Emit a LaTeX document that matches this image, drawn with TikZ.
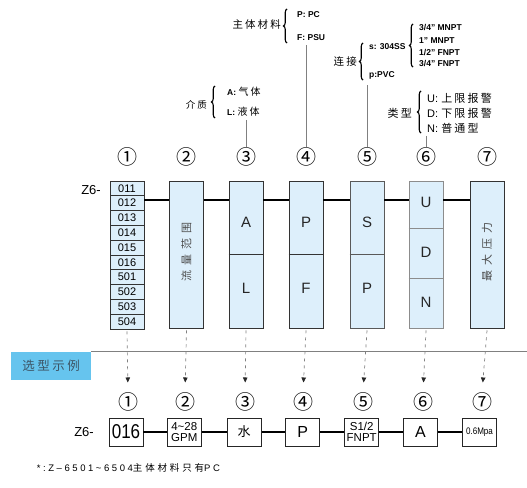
\documentclass[tikz,border=0pt]{standalone}
\usepackage{fontspec}
\usepackage{graphicx}
\setmainfont{Liberation Sans}
\newfontfamily\cjk{Noto Sans CJK SC}
\newfontfamily\cjksp[LetterSpace=20]{Noto Sans CJK SC}
\newfontfamily\cjkwide[LetterSpace=45]{Noto Sans CJK SC}
\newfontfamily\latsp[LetterSpace=27]{Liberation Sans}
\newfontfamily\cjkfoot[LetterSpace=30]{Noto Sans CJK SC}
\newcommand\nar[2]{\scalebox{#1}[1]{#2}}
\usetikzlibrary{arrows.meta,decorations.pathreplacing}
\definecolor{boxfill}{HTML}{DDEFFB}
\definecolor{tagblue}{HTML}{66C4EE}
\definecolor{tagtext}{HTML}{3D5566}
\definecolor{linegrey}{HTML}{808080}
\begin{document}
\begin{tikzpicture}[x=1pt,y=-1pt,
  topbox/.style={draw=black!80, fill=boxfill, minimum width=34pt, minimum height=147pt, inner sep=0pt, line width=0.8pt},
  rowbox/.style={draw=black!80, fill=boxfill, minimum width=34pt, minimum height=14.8pt, inner sep=0pt, line width=0.8pt, font=\fontsize{11}{11}\selectfont},
  boxtxt/.style={inner sep=0pt, font=\fontsize{15}{15}\selectfont, text=black!85},
  vtxt/.style={inner sep=0pt, rotate=90, font=\cjkwide\fontsize{11}{11}\selectfont, text=black!70},
  circnum/.style={inner sep=0pt, font=\cjk\fontsize{20}{20}\selectfont},
  conn/.style={line width=1.1pt, draw=black},
  anno/.style={inner sep=0pt, anchor=west, font=\bfseries\fontsize{8.5}{9}\selectfont},
  annozh/.style={inner sep=0pt, anchor=east, font=\cjksp\fontsize{10.5}{10.5}\selectfont},
  typetxt/.style={inner sep=0pt, anchor=west, font=\fontsize{11}{11}\selectfont},
  brc/.style={decorate, decoration={brace, amplitude=3.5pt}, line width=1.1pt},
  guide/.style={draw=linegrey, line width=0.7pt},
  dashln/.style={draw=linegrey, line width=0.7pt, dash pattern=on 3pt off 4pt, shorten >=10pt, -{Triangle[width=4.5pt,length=5pt,color=black!85]}},
  botbox/.style={draw=black!85, line width=0.8pt, minimum width=34pt, minimum height=28pt, inner sep=0pt},
  zlabel/.style={inner sep=0pt, font=\fontsize{13}{13}\selectfont}
]
\useasboundingbox[fill=white] (0,0) rectangle (527,487);

% ---------- annotations ----------
\node[annozh] (zt) at (281,25) {主体材料};
\draw[brc] (287,43) -- (287,9);
\node[anno] (ppc) at (297,15) {P: PC};
\node[anno] (fpsu) at (297,38) {F: PSU};

\node[annozh] (lj) at (357,62) {连接};
\draw[brc] (363,80) -- (363,43);
\node[anno] (s304) at (369,47) {s: 304SS};
\node[anno] (ppvc) at (369,75) {p:PVC};
\draw[brc] (413,67) -- (413,24);
\node[anno] (m1) at (419,27.3) {3/4" MNPT};
\node[anno] (m2) at (419,40.7) {1" MNPT};
\node[anno] (m3) at (419,52.3) {1/2" FNPT};
\node[anno] (m4) at (419,64) {3/4" FNPT};

\node[annozh, font=\cjksp\fontsize{9.5}{9.5}\selectfont] (jz) at (207,105) {介质};
\draw[brc] (215,118) -- (215,86);
\node[anno] (gas) at (227,92) {A: {\cjksp\mdseries\fontsize{10}{10}\selectfont 气体}};
\node[anno] (liq) at (227,112) {L: {\cjksp\mdseries\fontsize{10}{10}\selectfont 液体}};

\node[annozh, font=\cjksp\fontsize{11}{11}\selectfont] (lx) at (412,113) {类型};
\draw[brc] (421,133) -- (421,91);
\node[typetxt] (tu) at (427,98) {U: {\cjksp 上限报警}};
\node[typetxt] (td) at (427,113.5) {D: {\cjksp 下限报警}};
\node[typetxt] (tn) at (427,128.5) {N: {\cjksp 普通型}};

% ---------- top circled numbers ----------
\node[circnum] (n1) at (127,157) {①};
\node[circnum] (n2) at (186.5,157) {②};
\node[circnum] (n3) at (246,157) {③};
\node[circnum] (n4) at (306,157) {④};
\node[circnum] (n5) at (367,157) {⑤};
\node[circnum] (n6) at (426,157) {⑥};
\node[circnum] (n7) at (487,157) {⑦};

\draw[guide] ([yshift=-3pt]liq.south -| n3.north) -- (n3.north);
\draw[guide] ([yshift=-4pt]fpsu.south -| n4.north) -- (n4.north);
\draw[guide] ([yshift=-6pt]ppvc.south -| n5.north) -- (n5.north);
\draw[guide] ([yshift=-2pt]tn.south west -| n6.north) -- (n6.north);

% ---------- top boxes ----------
\node[zlabel] (ztop) at (91,190) {Z6-};
\foreach \lab [count=\k] in {011,012,013,014,015,016,501,502,503,504}
  \node[rowbox] (r\k) at (127,{181+14.8*\k-7.4}) {\lab};

\node[topbox] (b2) at (186.5,254.5) {};
\node[vtxt] (t2) at (186.5,252) {流量范围};

\node[topbox] (b3) at (246,254.5) {};
\draw[draw=black!80, line width=0.8pt] (b3.west) -- (b3.east);
\node[boxtxt] (t3a) at (246,222) {A};
\node[boxtxt] (t3b) at (246,288) {L};

\node[topbox] (b4) at (306,254.5) {};
\draw[draw=black!80, line width=0.8pt] (b4.west) -- (b4.east);
\node[boxtxt] (t4a) at (306,222) {P};
\node[boxtxt] (t4b) at (306,288) {F};

\node[topbox, draw=black!65] (b5) at (367,254.5) {};
\draw[draw=black!65, line width=0.8pt] (b5.west) -- (b5.east);
\node[boxtxt] (t5a) at (367,222) {S};
\node[boxtxt] (t5b) at (367,288) {P};

\node[topbox, draw=black!45] (b6) at (426,254.5) {};
\draw[draw=black!45, line width=0.8pt] (b6.north west) ++(0,48) -- ++(34,0);
\draw[draw=black!45, line width=0.8pt] (b6.north west) ++(0,97.3) -- ++(34,0);
\node[boxtxt] (t6a) at (426,202) {U};
\node[boxtxt] (t6b) at (426,252) {D};
\node[boxtxt] (t6c) at (426,302) {N};

\node[topbox] (b7) at (487,254.5) {};
\node[vtxt] (t7) at (487,252) {最大压力};

\coordinate (lv) at (0,200);
\draw[conn] (r2.east |- lv) -- (b2.west |- lv);
\draw[conn] (b2.east |- lv) -- (b3.west |- lv);
\draw[conn] (b3.east |- lv) -- (b4.west |- lv);
\draw[conn] (b4.east |- lv) -- (b5.west |- lv);
\draw[conn] (b5.east |- lv) -- (b6.west |- lv);
\draw[conn] (b6.east |- lv) -- (b7.west |- lv);

% ---------- example section ----------
\node[fill=tagblue, minimum width=80pt, minimum height=28pt, inner sep=0pt, anchor=north west,
      text=tagtext, font=\cjksp\fontsize{12.5}{12.5}\selectfont] (tag) at (11,351.5) {选型示例};
\coordinate (rend) at (527,351.5);
\draw[draw=linegrey, line width=1.3pt] (tag.north east) -- (rend);

\node[circnum] (q1) at (128,402) {①};
\node[circnum] (q2) at (185,402) {②};
\node[circnum] (q3) at (245,402) {③};
\node[circnum] (q4) at (303,402) {④};
\node[circnum] (q5) at (363,402) {⑤};
\node[circnum] (q6) at (423,402) {⑥};
\node[circnum] (q7) at (482,402) {⑦};

\draw[dashln] ([yshift=-2pt]r10.south) -- (q1.north);
\draw[dashln] ([yshift=-2pt]b2.south) -- (q2.north);
\draw[dashln] ([yshift=-2pt]b3.south) -- (q3.north);
\draw[dashln] ([yshift=-2pt]b4.south) -- (q4.north);
\draw[dashln] ([yshift=-2pt]b5.south) -- (q5.north);
\draw[dashln] ([yshift=-2pt]b6.south) -- (q6.north);
\draw[dashln] ([yshift=-2pt]b7.south) -- (q7.north);

\node[zlabel] (zbot) at (84,432) {Z6-};
\node[botbox] (c1) at (126,432) {\nar{0.85}{\fontsize{20}{20}\selectfont 016}};
\node[botbox, align=center, font=\fontsize{11.5}{11}\selectfont] (c2) at (184.3,432) {4\textasciitilde28\\GPM};
\node[botbox, font=\cjk\fontsize{13}{13}\selectfont] (c3) at (244.2,432) {水};
\node[botbox, font=\fontsize{16}{16}\selectfont] (c4) at (302.8,432) {P};
\node[botbox, align=center, font=\fontsize{11.5}{11}\selectfont] (c5) at (361.7,432) {S1/2\\FNPT};
\node[botbox, font=\fontsize{16}{16}\selectfont] (c6) at (420.5,432) {A};
\node[botbox] (c7) at (479.5,432) {\nar{0.85}{\fontsize{9.5}{9.5}\selectfont 0.6Mpa}};
\draw[conn] (c1) -- (c2);
\draw[conn] (c2) -- (c3);
\draw[conn] (c3) -- (c4);
\draw[conn] (c4) -- (c5);
\draw[conn] (c5) -- (c6);
\draw[conn] (c6) -- (c7);

\node[inner sep=0pt, anchor=west, font=\latsp\fontsize{9.5}{9.5}\selectfont] (foot) at (36.7,468)
  {*:Z\textendash6501\textasciitilde6504{\cjkfoot 主体材料只有}PC};
\end{tikzpicture}
\end{document}
